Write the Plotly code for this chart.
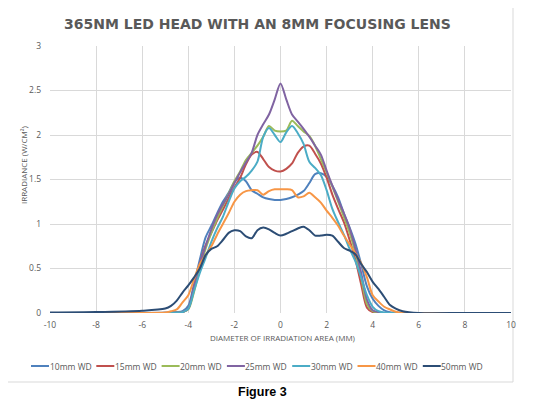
"""
365nm LED head with an 8mm focusing lens
Irradiance profiles for several working distances (Figure 3)
"""

import plotly.graph_objects as go

# ── Dados ────────────────────────────────────────────────────────────────────

DIAMETRO = [-10, -8, -6, -5, -4.75, -4.5, -4.25, -4, -3.75, -3.5, -3.25, -3,
            -2.75, -2.5, -2.25, -2, -1.75, -1.5, -1.25, -1, -0.75, -0.5, -0.25,
            0, 0.25, 0.5, 0.75, 1, 1.25, 1.5, 1.75, 2, 2.25, 2.5, 2.75, 3,
            3.25, 3.5, 3.75, 4, 4.25, 4.5, 4.75, 5, 5.3, 6, 8, 10]

WD_10 = [0, 0, 0, 0.005, 0.01, 0.01, 0.02, 0.08, 0.33, 0.6, 0.85, 0.98,
         1.12, 1.25, 1.35, 1.47, 1.52, 1.48, 1.38, 1.34, 1.3, 1.28, 1.27,
         1.27, 1.28, 1.3, 1.33, 1.37, 1.46, 1.56, 1.57, 1.53, 1.43, 1.3,
         1.12, 0.96, 0.78, 0.55, 0.3, 0.16, 0.08, 0.03, 0.01, 0.005, 0, 0, 0, 0]

WD_15 = [0, 0, 0, 0, 0, 0.005, 0.01, 0.05, 0.28, 0.55, 0.76, 0.9,
         1.04, 1.16, 1.29, 1.41, 1.52, 1.67, 1.78, 1.81, 1.73, 1.64, 1.6,
         1.59, 1.62, 1.68, 1.8, 1.87, 1.88, 1.79, 1.68, 1.52, 1.33, 1.17,
         1.02, 0.82, 0.6, 0.32, 0.06, 0.01, 0.005, 0, 0, 0, 0, 0, 0, 0]

WD_20 = [0, 0, 0, 0, 0, 0.005, 0.01, 0.04, 0.24, 0.5, 0.72, 0.9,
         1.06, 1.2, 1.34, 1.48, 1.59, 1.72, 1.8, 1.88, 1.98, 2.1, 2.05,
         2.04, 2.05, 2.16, 2.1, 2.04, 1.99, 1.88, 1.73, 1.58, 1.42, 1.25,
         1.08, 0.9, 0.68, 0.4, 0.1, 0.02, 0.005, 0, 0, 0, 0, 0, 0, 0]

WD_25 = [0, 0, 0, 0, 0, 0.005, 0.01, 0.05, 0.3, 0.55, 0.75, 0.94,
         1.1, 1.22, 1.33, 1.46, 1.58, 1.69, 1.8, 2.0, 2.12, 2.23, 2.4,
         2.58, 2.4, 2.23, 2.15, 2.07, 1.98, 1.88, 1.78, 1.6, 1.43, 1.27,
         1.12, 0.95, 0.72, 0.45, 0.15, 0.03, 0.01, 0, 0, 0, 0, 0, 0, 0]

WD_30 = [0, 0, 0, 0, 0, 0.005, 0.01, 0.05, 0.25, 0.45, 0.62, 0.8,
         0.95, 1.08, 1.25, 1.4, 1.48, 1.53, 1.6, 1.7, 1.98, 2.08, 2.0,
         1.92, 2.03, 2.1, 2.02, 1.9, 1.7, 1.63, 1.55, 1.38, 1.17, 1.02,
         0.88, 0.72, 0.58, 0.4, 0.2, 0.07, 0.02, 0.005, 0, 0, 0, 0, 0, 0]

WD_40 = [0, 0, 0, 0.005, 0.02, 0.04, 0.12, 0.2, 0.38, 0.55, 0.65, 0.75,
         0.88, 1.0, 1.12, 1.25, 1.33, 1.37, 1.38, 1.38, 1.33, 1.37, 1.39,
         1.39, 1.39, 1.38, 1.3, 1.31, 1.35, 1.3, 1.24, 1.15, 1.07, 0.98,
         0.87, 0.77, 0.67, 0.56, 0.4, 0.2, 0.13, 0.07, 0.04, 0.015, 0, 0, 0, 0]

WD_50 = [0.005, 0.01, 0.025, 0.05, 0.08, 0.14, 0.23, 0.31, 0.4, 0.5, 0.65, 0.72,
         0.75, 0.82, 0.9, 0.93, 0.92, 0.86, 0.84, 0.93, 0.96, 0.94, 0.9,
         0.87, 0.89, 0.92, 0.95, 0.97, 0.93, 0.87, 0.87, 0.88, 0.87, 0.8,
         0.73, 0.7, 0.66, 0.55, 0.46, 0.35, 0.27, 0.18, 0.09, 0.05, 0.02, 0, 0, 0]

SERIES = ["10mm WD", "15mm WD", "20mm WD", "25mm WD", "30mm WD", "40mm WD", "50mm WD"]
VALORES = [WD_10, WD_15, WD_20, WD_25, WD_30, WD_40, WD_50]
CORES = ["#4F81BD", "#C0504D", "#9BBB59", "#8064A2", "#4BACC6", "#F79646", "#2C4D75"]

X_TICKS = [-10, -8, -6, -4, -2, 0, 2, 4, 6, 8, 10]
Y_TICKS = [0, 0.5, 1, 1.5, 2, 2.5, 3]
Y_LABELS = ["0", "0.5", "1", "1.5", "2", "2.5", "3"]

CINZA = "#595959"
GRADE = "#d9d9d9"

# ── Geometria (px na janela; a página tem 8 px de margem no body) ───────────

OFF = 8
W, H = 538 - OFF, 406 - OFF
ESQ, DIR, TOPO, BASE = 50 - OFF, 511 - OFF, 46 - OFF, 313 - OFF
LARG, ALT = DIR - ESQ, BASE - TOPO


def px(x):
    return (x - OFF - ESQ) / LARG


def py(y):
    return (BASE - (y - OFF)) / ALT

# ── Figura ───────────────────────────────────────────────────────────────────

fig = go.Figure()

for nome, vals, cor in zip(SERIES, VALORES, CORES):
    fig.add_trace(go.Scatter(
        x=DIAMETRO,
        y=vals,
        mode="lines",
        name=nome,
        line=dict(color=cor, width=2, shape="spline", smoothing=0.8),
        showlegend=False,
    ))

# legenda desenhada à mão (estilo Excel, linha curta)
shapes = [
    dict(type="rect", xref="paper", yref="paper",
         x0=px(2), x1=px(513), y0=py(382), y1=py(5),
         line=dict(color=GRADE, width=1), fillcolor="rgba(0,0,0,0)",
         layer="below"),
]
annotations = []
for i, (nome, cor) in enumerate(zip(SERIES, CORES)):
    x0 = 31 + i * 65.3
    shapes.append(dict(type="line", xref="paper", yref="paper",
                       x0=px(x0), x1=px(x0 + 18), y0=py(366), y1=py(366),
                       line=dict(color=cor, width=2)))
    annotations.append(dict(text=nome, xref="paper", yref="paper",
                            x=px(x0 + 16.5), y=py(366),
                            xanchor="left", yanchor="middle", showarrow=False,
                            font=dict(size=8.5, color=CINZA)))

annotations += [
    dict(text="365NM LED HEAD WITH AN 8MM FOCUSING LENS",
         xref="paper", yref="paper", x=px(257), y=py(24),
         xanchor="center", yanchor="middle", showarrow=False,
         font=dict(family="DejaVu Sans", size=14, weight="bold", color=CINZA)),
    dict(text="IRRADIANCE (W/CM²)", xref="paper", yref="paper",
         x=px(23), y=py(165), textangle=-90,
         xanchor="center", yanchor="middle", showarrow=False,
         font=dict(size=8, color=CINZA)),
    dict(text="DIAMETER OF IRRADIATION AREA (MM)", xref="paper", yref="paper",
         x=px(283), y=py(337),
         xanchor="center", yanchor="middle", showarrow=False,
         font=dict(size=8, color=CINZA)),
    dict(text="<b>Figure 3</b>", xref="paper", yref="paper",
         x=px(262), y=py(392),
         xanchor="center", yanchor="middle", showarrow=False,
         font=dict(family="Liberation Sans", size=12.5, color="black")),
]

fig.update_layout(
    width=W,
    height=H,
    margin=dict(l=ESQ, r=W - DIR, t=TOPO, b=H - BASE, autoexpand=False),
    paper_bgcolor="white",
    plot_bgcolor="white",
    font=dict(family="Open Sans", color=CINZA, size=9),
    showlegend=False,
    xaxis=dict(
        range=[-10, 10],
        tickvals=X_TICKS,
        ticktext=[str(t) for t in X_TICKS],
        showgrid=True, gridcolor=GRADE, gridwidth=1,
        zeroline=False, showline=False, automargin=False,
        ticks="", ticklabelstandoff=5,
        tickfont=dict(size=8.5, color=CINZA),
    ),
    yaxis=dict(
        range=[0, 3],
        tickvals=Y_TICKS,
        ticktext=Y_LABELS,
        showgrid=True, gridcolor=GRADE, gridwidth=1,
        zeroline=False, showline=False, automargin=False,
        ticks="", ticklabelstandoff=8,
        tickfont=dict(size=8.5, color=CINZA),
    ),
    shapes=shapes,
    annotations=annotations,
)

fig.write_html("out.html")
